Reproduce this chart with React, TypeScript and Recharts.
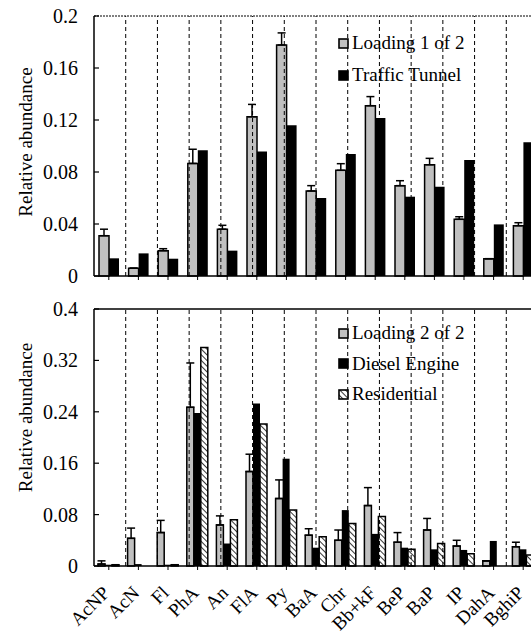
import React from 'react';
import { BarChart, Bar, XAxis, YAxis, ErrorBar, ReferenceLine, Legend } from 'recharts';

const categories = ['AcNP', 'AcN', 'Fl', 'PhA', 'An', 'FlA', 'Py', 'BaA', 'Chr', 'Bb+kF', 'BeP', 'BaP', 'IP', 'DahA', 'BghiP'];

const loading1 = [0.031, 0.006, 0.0195, 0.0866, 0.036, 0.1225, 0.1777, 0.0654, 0.0813, 0.131, 0.0695, 0.0856, 0.0436, 0.0133, 0.0387];
const loading1ErrTop = [0.036, 0.006, 0.021, 0.0975, 0.039, 0.132, 0.187, 0.0695, 0.0864, 0.138, 0.0733, 0.0905, 0.0456, 0.0133, 0.041];
const trafficTunnel = [0.0136, 0.0174, 0.0133, 0.0968, 0.0195, 0.0957, 0.116, 0.06, 0.0938, 0.1215, 0.061, 0.0687, 0.0892, 0.0397, 0.1028];

const loading2 = [0.003, 0.043, 0.052, 0.247, 0.064, 0.147, 0.105, 0.048, 0.04, 0.094, 0.037, 0.056, 0.031, 0.008, 0.03];
const loading2ErrTop = [0.008, 0.059, 0.071, 0.316, 0.078, 0.174, 0.134, 0.058, 0.056, 0.122, 0.052, 0.074, 0.04, 0.008, 0.037];
const dieselEngine = [0.002, 0.003, 0.002, 0.238, 0.035, 0.253, 0.167, 0.0285, 0.087, 0.05, 0.0285, 0.026, 0.025, 0.039, 0.026];
const residential = [0.002, 0, 0.002, 0.34, 0.072, 0.221, 0.087, 0.0457, 0.066, 0.077, 0.026, 0.035, 0.019, 0, 0.017];

const topTicks = [0, 0.04, 0.08, 0.12, 0.16, 0.2];
const bottomTicks = [0, 0.08, 0.16, 0.24, 0.32, 0.4];

const topLegend = [
  { name: 'Loading 1 of 2', fill: '#c0c0c0' },
  { name: 'Traffic Tunnel', fill: '#000' },
];
const bottomLegend = [
  { name: 'Loading 2 of 2', fill: '#c0c0c0' },
  { name: 'Diesel Engine', fill: '#000' },
  { name: 'Residential', fill: 'url(#hatch)' },
];

const topData = categories.map((c, i) => ({
  name: c,
  l1: loading1[i],
  l1e: [0, Math.max(0, loading1ErrTop[i] - loading1[i])],
  tt: trafficTunnel[i],
}));

const bottomData = categories.map((c, i) => ({
  name: c,
  l2: loading2[i],
  l2e: [0, Math.max(0, loading2ErrTop[i] - loading2[i])],
  de: dieselEngine[i],
  re: residential[i],
}));

const separators = categories.slice(1).map((_, i) => i + 1);

const FONT = "Liberation Serif, Tinos, DejaVu Serif, Noto Serif, FreeSerif, Times New Roman, Times, serif";

const YTick = (props: any) => {
  const { x, y, payload } = props;
  return (
    <g>
      <text x={x} y={y} dy="0.35em" textAnchor="end" fontSize={20} fill="#000" style={{ fontFamily: FONT }}>
        {String(payload.value)}
      </text>
      <line x1={x + 16} y1={y} x2={x + 21} y2={y} stroke="#000" strokeWidth={1.2} />
    </g>
  );
};

const XTick = (props: any) => {
  const { x, y, payload } = props;
  return (
    <g transform={`translate(${x + 2},${y + 22})`}>
      <text transform="rotate(-45)" x={0} y={0} textAnchor="end" fontSize={19} fill="#000" style={{ fontFamily: FONT }}>
        {payload.value}
      </text>
    </g>
  );
};

const makeLegend = (items: { name: string; fill: string }[], rowH: number) => () => (
  <div style={{ fontFamily: FONT, fontSize: 19, color: '#000', lineHeight: `${rowH}px` }}>
    {items.map((it) => (
      <div key={it.name} style={{ display: 'flex', alignItems: 'center', height: rowH, whiteSpace: 'nowrap' }}>
        <svg width={11} height={11} style={{ marginRight: 3 }}>
          <rect x={1} y={1} width={9} height={9} fill={it.fill} stroke="#000" strokeWidth={1.6} />
        </svg>
        <span>{it.name}</span>
      </div>
    ))}
  </div>
);

export default function App() {
  return (
    <div style={{ position: 'absolute', left: 0, top: 0, width: 531, height: 633, overflow: 'hidden', background: '#fff', fontFamily: FONT }}>
      <svg width={0} height={0} style={{ position: 'absolute' }}>
        <defs>
          <pattern id="hatch" width={4} height={4} patternUnits="userSpaceOnUse" patternTransform="rotate(-45)">
            <rect width={4} height={4} fill="#fff" />
            <line x1={0} y1={0} x2={0} y2={4} stroke="#222" strokeWidth={1.8} />
          </pattern>
        </defs>
      </svg>

      <div style={{ position: 'absolute', left: 0, top: 0 }}>
        <BarChart width={545} height={290} data={topData} margin={{ top: 16, right: 7, bottom: 0, left: 0 }} barGap={0} barCategoryGap={0} style={{ fontFamily: FONT }}>
          <XAxis dataKey="name" height={14} tickSize={4} tickFormatter={() => ''} axisLine={{ stroke: '#000', strokeWidth: 1.5 }} tickLine={{ stroke: '#000' }} />
          <XAxis xAxisId="sep" type="number" domain={[0, 15]} hide />
          <YAxis
            width={94}
            domain={[0, 0.2]}
            ticks={topTicks}
            interval={0}
            tickSize={0}
            tickMargin={16}
            tickLine={false}
            tick={<YTick />}
            axisLine={{ stroke: '#000', strokeWidth: 1.5 }}
            label={{ value: 'Relative abundance', angle: -90, position: 'center', dx: -22, dy: -4, fontSize: 19, fill: '#000', style: { fontFamily: FONT } }}
          />
          {separators.map((s) => (
            <ReferenceLine key={s} x={s} xAxisId="sep" stroke="#000" strokeWidth={1} strokeDasharray="4 3" />
          ))}
          <ReferenceLine y={0.2} stroke="#000" strokeWidth={1} strokeDasharray="2 1" />
          <Bar dataKey="l1" name="Loading 1 of 2" fill="#c0c0c0" stroke="#000" strokeWidth={1.5} barSize={10} isAnimationActive={false}>
            <ErrorBar dataKey="l1e" direction="y" width={4} stroke="#000" strokeWidth={1.5} />
          </Bar>
          <Bar dataKey="tt" name="Traffic Tunnel" fill="#000" barSize={10} isAnimationActive={false} />
          <Legend layout="vertical" align="center" verticalAlign="middle" wrapperStyle={{ position: 'absolute', top: 27, left: 338, width: 180 }} content={makeLegend(topLegend, 32)} />
        </BarChart>
      </div>

      <div style={{ position: 'absolute', left: 0, top: 290 }}>
        <BarChart width={545} height={343} data={bottomData} margin={{ top: 19, right: 7, bottom: 0, left: 0 }} barGap={0} barCategoryGap={0} style={{ fontFamily: FONT }}>
          <XAxis dataKey="name" height={67} tickSize={4} interval={0} tick={<XTick />} axisLine={{ stroke: '#000', strokeWidth: 1.5 }} tickLine={{ stroke: '#000' }} />
          <XAxis xAxisId="sep" type="number" domain={[0, 15]} hide />
          <YAxis
            width={94}
            domain={[0, 0.4]}
            ticks={bottomTicks}
            interval={0}
            tickSize={0}
            tickMargin={16}
            tickLine={false}
            tick={<YTick />}
            axisLine={{ stroke: '#000', strokeWidth: 1.5 }}
            label={{ value: 'Relative abundance', angle: -90, position: 'center', dx: -22, dy: -20, fontSize: 19, fill: '#000', style: { fontFamily: FONT } }}
          />
          {separators.map((s) => (
            <ReferenceLine key={s} x={s} xAxisId="sep" stroke="#000" strokeWidth={1} strokeDasharray="4 3" />
          ))}
          <ReferenceLine y={0.4} stroke="#000" strokeWidth={1.5} />
          <Bar dataKey="l2" name="Loading 2 of 2" fill="#c0c0c0" stroke="#000" strokeWidth={1.5} barSize={7} isAnimationActive={false}>
            <ErrorBar dataKey="l2e" direction="y" width={4} stroke="#000" strokeWidth={1.5} />
          </Bar>
          <Bar dataKey="de" name="Diesel Engine" fill="#000" barSize={7} isAnimationActive={false} />
          <Bar dataKey="re" name="Residential" fill="url(#hatch)" stroke="#000" strokeWidth={1.5} barSize={7} isAnimationActive={false} />
          <Legend layout="vertical" align="center" verticalAlign="middle" wrapperStyle={{ position: 'absolute', top: 28, left: 338, width: 180 }} content={makeLegend(bottomLegend, 30.5)} />
        </BarChart>
      </div>
    </div>
  );
}
